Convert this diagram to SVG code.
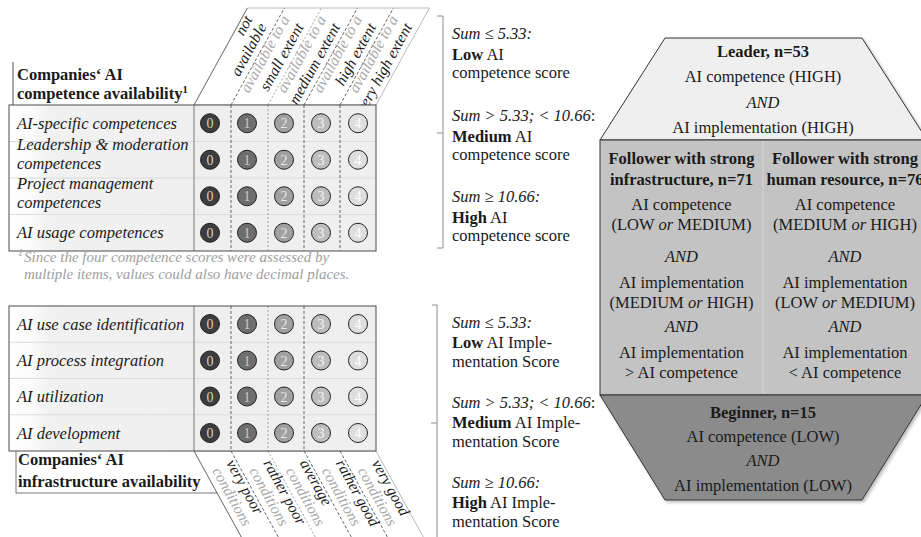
<svg xmlns="http://www.w3.org/2000/svg" xmlns:xlink="http://www.w3.org/1999/xlink" width="921" height="537" viewBox="0 0 921 537">
<defs>
<style>
text{font-family:"Liberation Serif","Times New Roman",serif;fill:#1a1a1a}
.lb{font-size:16.5px;font-style:italic}
.bh{font-size:16.5px;font-weight:bold}
.ch{font-size:15.5px;font-style:italic}
.g{fill:#a9a9a9}
.nm{font-size:14px;text-anchor:middle}
.sm{font-size:16.5px}
.i{font-style:italic}
.b{font-weight:bold}
.hx{font-size:16.5px;text-anchor:middle}
.fn{font-size:15px;font-style:italic;fill:#a0a0a0}
.frame{fill:none;stroke:#4d4d4d;stroke-width:1}
.dash{stroke:#555;stroke-width:0.9;stroke-dasharray:3 2;fill:none}
.dot{stroke:#9a9a9a;stroke-width:0.9;stroke-dasharray:2 2;fill:none}
.sep{stroke:#7a7a7a;stroke-width:1;fill:none}
.rowsep{stroke:#dcdcdc;stroke-width:1}
.brk{fill:none;stroke:#8c8c8c;stroke-width:1}
.hexs{stroke:#333;stroke-width:1}
</style>
<linearGradient id="lg" x1="0" x2="1" y1="0" y2="0">
 <stop offset="0" stop-color="#ffffff"/>
 <stop offset="0.12" stop-color="#fbfbfb"/>
 <stop offset="0.22" stop-color="#f1f1f1"/>
 <stop offset="1" stop-color="#f0f0f0"/>
</linearGradient>
<filter id="sh" x="-5%" y="-5%" width="115%" height="115%">
 <feDropShadow dx="2" dy="2" stdDeviation="1.5" flood-color="#000" flood-opacity="0.25"/>
</filter>
<g id="dots">
 <circle cx="210" cy="0" r="9.5" fill="#3d3d3d" stroke="#222"/>
 <circle cx="247" cy="0" r="9.5" fill="#6e6e6e" stroke="#222"/>
 <circle cx="284" cy="0" r="9.5" fill="#a0a0a0" stroke="#222"/>
 <circle cx="321" cy="0" r="9.5" fill="#bdbdbd" stroke="#222"/>
 <circle cx="358" cy="0" r="9.5" fill="#dedede" stroke="#222"/>
 <text class="nm" x="210" y="5" style="fill:#d0d0d0">0</text>
 <text class="nm" x="247" y="5" style="fill:#c8c8c8">1</text>
 <text class="nm" x="284" y="5" style="fill:#e6e6e6">2</text>
 <text class="nm" x="321" y="5" style="fill:#f4f4f4">3</text>
 <text class="nm" x="358" y="5" style="fill:#ffffff">4</text>
</g>
</defs>
<rect width="921" height="537" fill="#ffffff"/>

<g id="competence-table">
 <polygon points="194,105 376,105 429.4,8 247.4,8" fill="#ffffff" stroke="#bbbbbb" stroke-width="1"/>
 <line class="sep" x1="194" y1="105" x2="247.4" y2="8"/>
 <line class="dash" x1="231" y1="105" x2="284.4" y2="8"/>
 <line class="dot" x1="268" y1="105" x2="321.4" y2="8"/>
 <line class="dash" x1="304" y1="105" x2="357.4" y2="8"/>
 <line class="dash" x1="340" y1="105" x2="393.4" y2="8"/>
 <g class="ch">
  <text transform="translate(258.2,22) rotate(-61.2)" text-anchor="end"><tspan x="0" y="-6">not</tspan><tspan x="0" y="10">available</tspan></text>
  <text transform="translate(295.2,22) rotate(-61.2)" text-anchor="end"><tspan class="g" x="0" y="-6">available to a</tspan><tspan x="0" y="10">small extent</tspan></text>
  <text transform="translate(331.7,22) rotate(-61.2)" text-anchor="end"><tspan class="g" x="0" y="-6">available to a</tspan><tspan x="0" y="10">medium extent</tspan></text>
  <text transform="translate(367.7,22) rotate(-61.2)" text-anchor="end"><tspan class="g" x="0" y="-6">available to a</tspan><tspan x="0" y="10">high extent</tspan></text>
  <text transform="translate(403.7,22) rotate(-61.2)" text-anchor="end"><tspan class="g" x="0" y="-6">available to a</tspan><tspan x="0" y="10">very high extent</tspan></text>
 </g>
 <line x1="13" y1="62" x2="13" y2="105" stroke="#555" stroke-width="1"/>
 <text class="bh" x="17" y="80">Companies‘ AI</text>
 <text class="bh" x="17" y="99">competence availability<tspan font-size="10.5" dy="-6">1</tspan></text>
 <rect x="9" y="105" width="185" height="146" fill="url(#lg)"/>
 <rect x="194" y="105" width="182" height="146" fill="#efefef"/>
 <line class="rowsep" x1="9" y1="141.5" x2="376" y2="141.5"/>
 <line class="rowsep" x1="9" y1="178" x2="376" y2="178"/>
 <line class="rowsep" x1="9" y1="214.5" x2="376" y2="214.5"/>
 <line class="dash" x1="231" y1="105" x2="231" y2="251"/>
 <line class="dot" x1="268" y1="105" x2="268" y2="251"/>
 <line class="dash" x1="304" y1="105" x2="304" y2="251"/>
 <line class="dash" x1="340" y1="105" x2="340" y2="251"/>
 <line class="sep" x1="194" y1="105" x2="194" y2="251"/>
 <rect class="frame" x="9" y="105" width="367" height="146"/>
 <text class="lb" x="17" y="129">AI-specific competences</text>
 <text class="lb" x="17" y="150">Leadership &amp; moderation</text>
 <text class="lb" x="17" y="168.5">competences</text>
 <text class="lb" x="17" y="188.5">Project management</text>
 <text class="lb" x="17" y="207.5">competences</text>
 <text class="lb" x="17" y="238">AI usage competences</text>
 <use xlink:href="#dots" href="#dots" transform="translate(0,123.25)"/>
 <use xlink:href="#dots" href="#dots" transform="translate(0,159.75)"/>
 <use xlink:href="#dots" href="#dots" transform="translate(0,196.25)"/>
 <use xlink:href="#dots" href="#dots" transform="translate(0,232.75)"/>
</g>

<g id="footnote">
 <text class="fn"><tspan x="18" y="256" font-size="10">1</tspan><tspan x="24" y="262">Since the four competence scores were assessed by</tspan><tspan x="24" y="279">multiple items, values could also have decimal places.</tspan></text>
</g>

<g id="infrastructure-table">
 <polygon points="194,451 376,451 425.5,541 243.5,541" fill="#ffffff" stroke="#bbbbbb" stroke-width="1"/>
 <line class="sep" x1="194" y1="451" x2="243.5" y2="541"/>
 <line class="dash" x1="231" y1="451" x2="280.5" y2="541"/>
 <line class="dot" x1="268" y1="451" x2="317.5" y2="541"/>
 <line class="dash" x1="304" y1="451" x2="353.5" y2="541"/>
 <line class="dash" x1="340" y1="451" x2="389.5" y2="541"/>
 <g class="ch">
  <text transform="translate(220.8,466) rotate(61.2)"><tspan x="0" y="-6">very poor</tspan><tspan class="g" x="0" y="10">conditions</tspan></text>
  <text transform="translate(257.8,466) rotate(61.2)"><tspan x="0" y="-6">rather poor</tspan><tspan class="g" x="0" y="10">conditions</tspan></text>
  <text transform="translate(294.3,466) rotate(61.2)"><tspan x="0" y="-6">average</tspan><tspan class="g" x="0" y="10">conditions</tspan></text>
  <text transform="translate(330.3,466) rotate(61.2)"><tspan x="0" y="-6">rather good</tspan><tspan class="g" x="0" y="10">conditions</tspan></text>
  <text transform="translate(366.3,466) rotate(61.2)"><tspan x="0" y="-6">very good</tspan><tspan class="g" x="0" y="10">conditions</tspan></text>
 </g>
 <polyline points="16,451 16,493 217.1,493" fill="none" stroke="#777" stroke-width="1"/>
 <text class="bh" x="18" y="465">Companies‘ AI</text>
 <text class="bh" x="18" y="487">infrastructure availability</text>
 <rect x="9" y="306" width="185" height="145" fill="url(#lg)"/>
 <rect x="194" y="306" width="182" height="145" fill="#efefef"/>
 <line class="rowsep" x1="9" y1="342.25" x2="376" y2="342.25"/>
 <line class="rowsep" x1="9" y1="378.5" x2="376" y2="378.5"/>
 <line class="rowsep" x1="9" y1="414.75" x2="376" y2="414.75"/>
 <line class="dash" x1="231" y1="306" x2="231" y2="451"/>
 <line class="dot" x1="268" y1="306" x2="268" y2="451"/>
 <line class="dash" x1="304" y1="306" x2="304" y2="451"/>
 <line class="sep" x1="194" y1="306" x2="194" y2="451"/>
 <rect class="frame" x="9" y="306" width="367" height="145"/>
 <text class="lb" x="17" y="329.5">AI use case identification</text>
 <text class="lb" x="17" y="366">AI process integration</text>
 <text class="lb" x="17" y="402">AI utilization</text>
 <text class="lb" x="17" y="438.5">AI development</text>
 <use xlink:href="#dots" href="#dots" transform="translate(0,324)"/>
 <use xlink:href="#dots" href="#dots" transform="translate(0,360.5)"/>
 <use xlink:href="#dots" href="#dots" transform="translate(0,396.5)"/>
 <use xlink:href="#dots" href="#dots" transform="translate(0,433)"/>
</g>

<g id="connectors">
 <path class="brk" d="M437,16 H443 V248 H437 M437,133 H443"/>
 <path class="brk" d="M432,305 H437 V540 M431,423 H437"/>
</g>

<g id="competence-scores">
 <text class="sm i" x="452" y="39">Sum ≤ 5.33:</text>
 <text class="sm" x="452" y="59.5"><tspan class="b">Low</tspan> AI</text>
 <text class="sm" x="452" y="77.5">competence score</text>
 <text class="sm" x="452" y="121"><tspan class="i">Sum &gt; 5.33; &lt; 10.66</tspan>:</text>
 <text class="sm" x="452" y="141.5"><tspan class="b">Medium</tspan> AI</text>
 <text class="sm" x="452" y="159.5">competence score</text>
 <text class="sm i" x="452" y="202">Sum ≥ 10.66:</text>
 <text class="sm" x="452" y="223"><tspan class="b">High</tspan> AI</text>
 <text class="sm" x="452" y="241">competence score</text>
</g>

<g id="implementation-scores">
 <text class="sm i" x="452" y="328">Sum ≤ 5.33:</text>
 <text class="sm" x="452" y="348"><tspan class="b">Low</tspan> AI Imple-</text>
 <text class="sm" x="452" y="367">mentation Score</text>
 <text class="sm" x="452" y="408"><tspan class="i">Sum &gt; 5.33; &lt; 10.66</tspan>:</text>
 <text class="sm" x="452" y="428"><tspan class="b">Medium</tspan> AI Imple-</text>
 <text class="sm" x="452" y="447">mentation Score</text>
 <text class="sm i" x="452" y="488">Sum ≥ 10.66:</text>
 <text class="sm" x="452" y="508"><tspan class="b">High</tspan> AI Imple-</text>
 <text class="sm" x="452" y="527">mentation Score</text>
</g>

<g id="typology" filter="url(#sh)">
 <polygon class="hexs" points="665,38 862,38 927,140 600,140" fill="#efefef"/>
 <rect class="hexs" x="600" y="140" width="327" height="255" fill="#c3c3c3"/>
 <line x1="763" y1="141" x2="763" y2="394" stroke="#d6d6d6" stroke-width="1"/>
 <polygon class="hexs" points="600,395 927,395 862,500 665,500" fill="#8b8b8b"/>
</g>

<g id="leader">
 <text class="hx b" x="763" y="57">Leader, n=53</text>
 <text class="hx" x="763" y="82">AI competence (HIGH)</text>
 <text class="hx i" x="763" y="107.5">AND</text>
 <text class="hx" x="763" y="133">AI implementation (HIGH)</text>
</g>

<g id="follower-infrastructure">
 <text class="hx b" x="681.5" y="164">Follower with strong</text>
 <text class="hx b" x="681.5" y="184.5">infrastructure, n=71</text>
 <text class="hx" x="681.5" y="210">AI competence</text>
 <text class="hx" x="681.5" y="230">(LOW <tspan class="i">or</tspan> MEDIUM)</text>
 <text class="hx i" x="681.5" y="262">AND</text>
 <text class="hx" x="681.5" y="288">AI implementation</text>
 <text class="hx" x="681.5" y="308">(MEDIUM <tspan class="i">or</tspan> HIGH)</text>
 <text class="hx i" x="681.5" y="332">AND</text>
 <text class="hx" x="681.5" y="358">AI implementation</text>
 <text class="hx" x="681.5" y="378">&gt; AI competence</text>
</g>

<g id="follower-human-resource">
 <text class="hx b" x="845" y="164">Follower with strong</text>
 <text class="hx b" x="845" y="184.5">human resource, n=76</text>
 <text class="hx" x="845" y="210">AI competence</text>
 <text class="hx" x="845" y="230">(MEDIUM <tspan class="i">or</tspan> HIGH)</text>
 <text class="hx i" x="845" y="262">AND</text>
 <text class="hx" x="845" y="288">AI implementation</text>
 <text class="hx" x="845" y="308">(LOW <tspan class="i">or</tspan> MEDIUM)</text>
 <text class="hx i" x="845" y="332">AND</text>
 <text class="hx" x="845" y="358">AI implementation</text>
 <text class="hx" x="845" y="378">&lt; AI competence</text>
</g>

<g id="beginner">
 <text class="hx b" x="763" y="418">Beginner, n=15</text>
 <text class="hx" x="763" y="442">AI competence (LOW)</text>
 <text class="hx i" x="763" y="466">AND</text>
 <text class="hx" x="763" y="491">AI implementation (LOW)</text>
</g>
</svg>
